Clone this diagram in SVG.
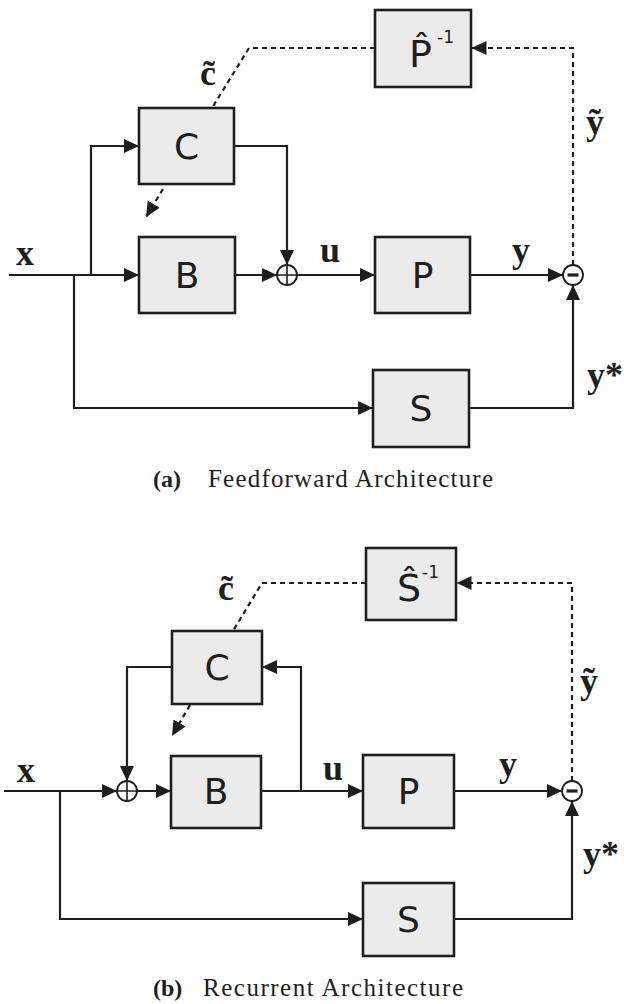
<svg xmlns="http://www.w3.org/2000/svg" width="624" height="1004" viewBox="0 0 624 1004">
<style>
.box{fill:#ebebeb;stroke:#1e1e1e;stroke-width:2.6}
.ln{fill:none;stroke:#1e1e1e;stroke-width:2.2}
.ds{fill:none;stroke:#1e1e1e;stroke-width:2.2;stroke-dasharray:5 4}
.circ{fill:#fff;stroke:#1e1e1e;stroke-width:1.8}
.bl{font-family:"DejaVu Sans",sans-serif;font-size:36px;fill:#1e1e1e;text-anchor:middle}
.inv{font-family:"DejaVu Sans",sans-serif;font-size:38px;fill:#1e1e1e}
.lab{font-family:"Liberation Serif","DejaVu Serif",serif;font-weight:bold;font-size:36px;fill:#1e1e1e}
.cap{font-family:"Liberation Serif","DejaVu Serif",serif;font-size:25px;fill:#1e1e1e}
.capb{font-family:"Liberation Serif","DejaVu Serif",serif;font-size:24px;font-weight:bold;fill:#1e1e1e}
</style>
<defs>
<marker id="ah" markerUnits="userSpaceOnUse" markerWidth="16" markerHeight="16" refX="15" refY="7" orient="auto">
<path d="M0,0 L15,7 L0,14 z" fill="#1e1e1e"/>
</marker>
</defs>

<!-- Panel (a) -->
<g id="connectors-a">
<path class="ln" d="M9,275 H139" marker-end="url(#ah)"/>
<path class="ln" d="M91,275 V146 H139" marker-end="url(#ah)"/>
<path class="ln" d="M74,275 V408 H373" marker-end="url(#ah)"/>
<path class="ln" d="M234,146 H287 V265" marker-end="url(#ah)"/>
<path class="ln" d="M235,275 H277" marker-end="url(#ah)"/>
<path class="ln" d="M297,275 H375" marker-end="url(#ah)"/>
<path class="ln" d="M470,275 H563" marker-end="url(#ah)"/>
<path class="ln" d="M469,408 H573 V285" marker-end="url(#ah)"/>
<path class="ds" d="M573,265 V48 H471.5" marker-end="url(#ah)"/>
<path class="ds" d="M375,48 H249 L212,108"/>
<path class="ds" d="M163,189 L146,217" marker-end="url(#ah)"/>
</g>
<g id="sum-a">
<circle class="circ" cx="287" cy="275" r="10"/>
<path d="M287,265 V285 M277,275 H297" stroke="#1e1e1e" stroke-width="1.6"/>
</g>
<g id="diff-a">
<circle class="circ" cx="573" cy="275" r="10"/>
<path d="M567.5,275 H578.5" stroke="#1e1e1e" stroke-width="3.2"/>
</g>
<g id="node-Pinv"><rect class="box" x="375" y="10" width="96" height="77"/><text class="inv"><tspan x="409" y="67">P&#x302;</tspan><tspan x="437" y="43" font-size="17">-1</tspan></text></g>
<g id="node-C-a"><rect class="box" x="139" y="108" width="95" height="76"/><text class="bl" x="186.5" y="159">C</text></g>
<g id="node-B-a"><rect class="box" x="139" y="237" width="96" height="76"/><text class="bl" x="187" y="288">B</text></g>
<g id="node-P-a"><rect class="box" x="375" y="237" width="95" height="76"/><text class="bl" x="422.5" y="288">P</text></g>
<g id="node-S-a"><rect class="box" x="373" y="370" width="96" height="77"/><text class="bl" x="421" y="421">S</text></g>
<g id="labels-a">
<text class="lab" x="16" y="265">x</text>
<text class="lab" x="200" y="85">c&#x303;</text>
<text class="lab" x="320" y="262">u</text>
<text class="lab" x="512" y="262">y</text>
<text class="lab" x="586" y="134">&#x1EF9;</text>
<text class="lab" x="587" y="387">y*</text>
</g>
<g id="caption-a">
<text class="capb" x="153" y="487">(a)</text>
<text class="cap" x="208" y="487" textLength="285" lengthAdjust="spacing">Feedforward Architecture</text>
</g>

<!-- Panel (b) -->
<g id="connectors-b">
<path class="ln" d="M4,791 H117" marker-end="url(#ah)"/>
<path class="ln" d="M60,791 V919 H363" marker-end="url(#ah)"/>
<path class="ln" d="M137,791 H171" marker-end="url(#ah)"/>
<path class="ln" d="M172,667 H127 V781" marker-end="url(#ah)"/>
<path class="ln" d="M261,791 H363" marker-end="url(#ah)"/>
<path class="ln" d="M301,791 V667 H262" marker-end="url(#ah)"/>
<path class="ln" d="M454,791 H562" marker-end="url(#ah)"/>
<path class="ln" d="M454,919 H572 V801" marker-end="url(#ah)"/>
<path class="ds" d="M572,781 V583 H456.5" marker-end="url(#ah)"/>
<path class="ds" d="M366,583 H262 L233,631"/>
<path class="ds" d="M190,705 L172,736" marker-end="url(#ah)"/>
</g>
<g id="sum-b">
<circle class="circ" cx="127" cy="791" r="10"/>
<path d="M127,781 V801 M117,791 H137" stroke="#1e1e1e" stroke-width="1.6"/>
</g>
<g id="diff-b">
<circle class="circ" cx="572" cy="791" r="10"/>
<path d="M566.5,791 H577.5" stroke="#1e1e1e" stroke-width="3.2"/>
</g>
<g id="node-Sinv"><rect class="box" x="366" y="548" width="90" height="72"/><text class="inv"><tspan x="397" y="601">S&#x302;</tspan><tspan x="422" y="578" font-size="17">-1</tspan></text></g>
<g id="node-C-b"><rect class="box" x="172" y="631" width="90" height="73"/><text class="bl" x="217" y="680">C</text></g>
<g id="node-B-b"><rect class="box" x="171" y="756" width="90" height="72"/><text class="bl" x="216" y="804">B</text></g>
<g id="node-P-b"><rect class="box" x="363" y="755" width="91" height="73"/><text class="bl" x="408.5" y="804">P</text></g>
<g id="node-S-b"><rect class="box" x="363" y="883" width="91" height="73"/><text class="bl" x="408.5" y="932">S</text></g>
<g id="labels-b">
<text class="lab" x="17" y="782">x</text>
<text class="lab" x="218" y="600">c&#x303;</text>
<text class="lab" x="323" y="780">u</text>
<text class="lab" x="499" y="776">y</text>
<text class="lab" x="580" y="693">&#x1EF9;</text>
<text class="lab" x="583" y="866">y*</text>
</g>
<g id="caption-b">
<text class="capb" x="153" y="996">(b)</text>
<text class="cap" x="203" y="996" textLength="260" lengthAdjust="spacing">Recurrent Architecture</text>
</g>
</svg>
